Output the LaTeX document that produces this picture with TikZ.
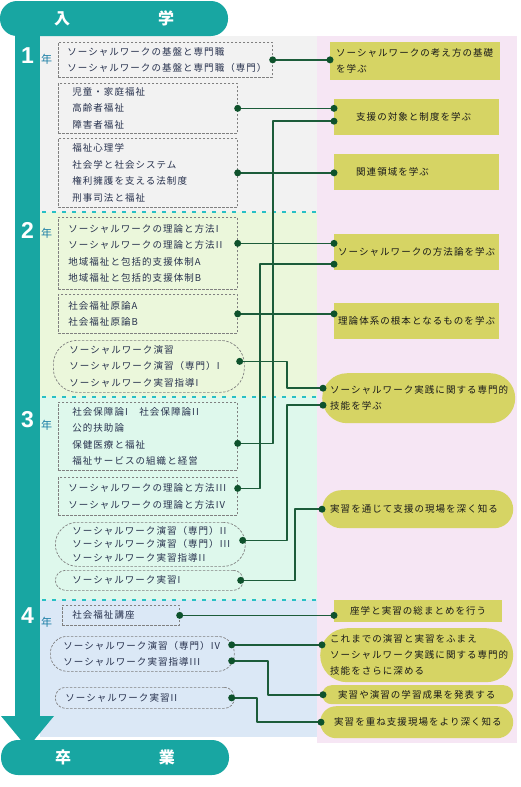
\documentclass[tikz,border=0pt]{standalone}
\usepackage{fontspec}
\setmainfont{Noto Sans CJK JP}
\newfontfamily\jp[LetterSpace=11]{Noto Sans CJK JP}
\newfontfamily\numf{Liberation Sans}
\usetikzlibrary{calc}
\definecolor{barteal}{RGB}{24,166,162}
\definecolor{septeal}{RGB}{40,192,196}
\definecolor{yearblue}{RGB}{25,125,165}
\definecolor{linkgreen}{RGB}{28,92,58}
\definecolor{dotgreen}{RGB}{14,82,44}
\definecolor{goalolive}{RGB}{214,212,100}
\definecolor{panelpink}{RGB}{246,230,244}
\definecolor{yeargrey}{RGB}{242,242,242}
\definecolor{yeargreen}{RGB}{235,247,219}
\definecolor{yearmint}{RGB}{222,248,236}
\definecolor{yearsky}{RGB}{219,232,246}
\definecolor{boxtext}{RGB}{40,50,78}
\definecolor{boxline}{RGB}{128,128,128}
\tikzset{
  course/.style={draw=boxline, dash pattern=on 2.5pt off 1.5pt, line width=0.7pt, anchor=north west,
    align=left, text=boxtext, font=\jp\fontsize{9.5}{16.5}\selectfont, inner ysep=0pt},
  practice/.style={course, rounded corners=#1},
  goal/.style={fill=goalolive, anchor=north west, align=left, text=black!90,
    font=\jp\fontsize{9.5}{16}\selectfont, inner ysep=0pt},
  goalpill/.style={goal, rounded corners=#1},
  stage/.style={fill=barteal, text=white, rounded corners=17pt, minimum width=228pt, minimum height=35pt,
    font=\bfseries\fontsize{16}{16}\selectfont},
  link/.style={draw=linkgreen, line width=1.6pt},
  sep/.style={draw=septeal, line width=2.2pt, dash pattern=on 4pt off 6pt}
}
\begin{document}
\begin{tikzpicture}[x=1pt, y=-1pt, line join=round]
\useasboundingbox (0,0) rectangle (520,787);
% panels
\fill[panelpink] (317,36) rectangle (517,743);
\fill[yeargrey] (40,36) rectangle (317,212);
\fill[yeargreen] (40,212) rectangle (317,397);
\fill[yearmint] (40,397) rectangle (317,600);
\fill[yearsky] (40,600) rectangle (317,737);
\foreach \y in {212,397,600} \draw[sep] (42,\y) -- (316,\y);
% time line
\fill[barteal] (15,30) rectangle (40,718);
\fill[barteal] (1,716) -- (54,716) -- (27.5,748) -- cycle;
\node[stage] (entry) at (114,18.5) {入\hspace{88pt}学};
\node[stage] (grad) at (115,757.5) {卒\hspace{88pt}業};
\foreach \n/\y/\k in {1/56/59,2/230/233,3/420/425,4/616/622}{
  \node[text=white, font=\numf\bfseries\fontsize{23}{23}\selectfont] (y\n) at (27.5,\y) {\n};
  \node[text=yearblue, font=\fontsize{11}{11}\selectfont] (yk\n) at (46.5,\k) {年};
}
% courses
\node[course, minimum width=214pt, minimum height=35pt, inner xsep=9pt, text width=196pt] (basics) at (58,42)
  {ソーシャルワークの基盤と専門職\\ソーシャルワークの基盤と専門職（専門）};
\node[course, minimum width=179pt, minimum height=50pt, inner xsep=14pt, text width=151pt] (fields) at (58,83)
  {児童・家庭福祉\\高齢者福祉\\障害者福祉};
\node[course, minimum width=179pt, minimum height=69pt, inner xsep=14pt, text width=151pt] (related) at (58,138)
  {福祉心理学\\社会学と社会システム\\権利擁護を支える法制度\\刑事司法と福祉};
\node[course, minimum width=179pt, minimum height=72pt, inner xsep=10pt, text width=159pt] (methodA) at (58,217)
  {ソーシャルワークの理論と方法I\\ソーシャルワークの理論と方法II\\地域福祉と包括的支援体制A\\地域福祉と包括的支援体制B};
\node[course, minimum width=179pt, minimum height=39pt, inner xsep=10pt, text width=159pt] (principles) at (58,294)
  {社会福祉原論A\\社会福祉原論B};
\node[practice=24pt, minimum width=191pt, minimum height=52pt, inner xsep=16pt, text width=159pt] (seminarA) at (53,340)
  {ソーシャルワーク演習\\ソーシャルワーク演習（専門）I\\ソーシャルワーク実習指導I};
\node[course, minimum width=179pt, minimum height=68pt, inner xsep=14pt, text width=151pt] (security) at (58,402)
  {社会保障論I　社会保障論II\\公的扶助論\\保健医療と福祉\\福祉サービスの組織と経営};
\node[course, minimum width=179pt, minimum height=38pt, inner xsep=10pt, text width=159pt] (methodB) at (58,477)
  {ソーシャルワークの理論と方法III\\ソーシャルワークの理論と方法IV};
\node[practice=22pt, minimum width=190pt, minimum height=44pt, inner xsep=17pt, text width=156pt,
  font=\jp\fontsize{9.5}{13.5}\selectfont] (seminarB) at (55,522)
  {ソーシャルワーク演習（専門）II\\ソーシャルワーク演習（専門）III\\ソーシャルワーク実習指導II};
\node[practice=10pt, minimum width=188pt, minimum height=20pt, inner xsep=17pt, text width=154pt] (placeA) at (55,570)
  {ソーシャルワーク実習I};
\node[course, minimum width=117pt, minimum height=20pt, inner xsep=10pt, text width=97pt] (lecture) at (62,605)
  {社会福祉講座};
\node[practice=17pt, minimum width=184pt, minimum height=35pt, inner xsep=13pt, text width=158pt] (seminarC) at (50,636)
  {ソーシャルワーク演習（専門）IV\\ソーシャルワーク実習指導III};
\node[practice=10pt, minimum width=179pt, minimum height=21pt, inner xsep=10pt, text width=159pt] (placeB) at (55,687)
  {ソーシャルワーク実習II};
% goals
\node[goal, minimum width=170pt, minimum height=38pt, inner xsep=6pt, text width=158pt] (goalBase) at (330,42)
  {ソーシャルワークの考え方の基礎\\を学ぶ};
\node[goal, minimum width=165pt, minimum height=36pt, inner xsep=22pt, text width=121pt] (goalScope) at (334,99)
  {支援の対象と制度を学ぶ};
\node[goal, minimum width=165pt, minimum height=36pt, inner xsep=22pt, text width=121pt] (goalField) at (334,154)
  {関連領域を学ぶ};
\node[goal, minimum width=165pt, minimum height=36pt, inner xsep=4pt, text width=157pt] (goalMethod) at (334,234)
  {ソーシャルワークの方法論を学ぶ};
\node[goal, minimum width=165pt, minimum height=36pt, inner xsep=4pt, text width=157pt] (goalTheory) at (334,303)
  {理論体系の根本となるものを学ぶ};
\node[goalpill=25pt, minimum width=193pt, minimum height=50pt, inner xsep=8pt, text width=177pt] (goalSkill) at (322,373)
  {ソーシャルワーク実践に関する専門的\\技能を学ぶ};
\node[goalpill=19pt, minimum width=191pt, minimum height=38pt, inner xsep=8pt, text width=175pt] (goalSite) at (322,490)
  {実習を通じて支援の現場を深く知る};
\node[goal, minimum width=168pt, minimum height=22pt, inner xsep=16pt, text width=136pt] (goalSum) at (334,600)
  {座学と実習の総まとめを行う};
\node[goalpill=27pt, minimum width=193pt, minimum height=54pt, inner xsep=10pt, text width=173pt] (goalDeep) at (320,628)
  {これまでの演習と実習をふまえ\\ソーシャルワーク実践に関する専門的\\技能をさらに深める};
\node[goalpill=9.5pt, minimum width=191pt, minimum height=19pt, inner xsep=16pt, text width=159pt] (goalPresent) at (322,685)
  {実習や演習の学習成果を発表する};
\node[goalpill=16pt, minimum width=193pt, minimum height=32pt, inner xsep=14pt, text width=165pt] (goalReal) at (320,706)
  {実習を重ね支援現場をより深く知る};
% dot points
\path (basics.east) coordinate (a1)
  (fields.east) coordinate (b1)
  (related.east) coordinate (c1)
  ($(methodA.east)+(0,-10)$) coordinate (d1)
  (principles.east) coordinate (e1)
  ($(seminarA.east)+(-5,-5)$) coordinate (f1)
  ($(security.east)+(0,7)$) coordinate (g1)
  ($(methodB.east)+(0,-8)$) coordinate (h1)
  ($(seminarB.east)+(-3,-4)$) coordinate (i1)
  ($(placeA.east)+(-3,0)$) coordinate (j1)
  (lecture.east) coordinate (k1)
  ($(seminarC.east)+(-3,-9)$) coordinate (l1)
  ($(seminarC.east)+(-3,7)$) coordinate (l2)
  ($(placeB.east)+(-3,0)$) coordinate (m1);
\path (goalBase.west |- a1) coordinate (t1)
  (goalScope.west |- b1) coordinate (t2a)
  ($(goalScope.west)+(0,4)$) coordinate (t2b)
  (goalField.west |- c1) coordinate (t3)
  (goalMethod.west |- d1) coordinate (t4a)
  ($(goalMethod.west)+(0,12)$) coordinate (t4b)
  (goalTheory.west |- e1) coordinate (t5)
  ($(goalSkill.west)+(1,-10)$) coordinate (t6a)
  ($(goalSkill.west)+(1,7)$) coordinate (t6b)
  ($(goalSite.west)+(0,0)$) coordinate (t7)
  (goalSum.west |- k1) coordinate (t8)
  ($(goalDeep.west |- l1)+(2,0)$) coordinate (t9)
  ($(goalPresent.west)+(1,0)$) coordinate (t10)
  ($(goalReal.west)+(1,0)$) coordinate (t11);
% links
\foreach \s/\t in {a1/t1,b1/t2a,c1/t3,d1/t4a,e1/t5,k1/t8,l1/t9}
  \draw[link] (\s) -- (\t);
\draw[link] (g1) -- ++(35,0) |- (t2b);
\draw[link] (h1) -- ++(22,0) |- (t4b);
\draw[link] (f1) -- ++(47,0) |- (t6a);
\draw[link] (i1) -- ++(44,0) |- (t6b);
\draw[link] (j1) -- ++(54,0) |- (t7);
\draw[link] (l2) -- ++(36,0) |- (t10);
\draw[link] (m1) -- ++(25,0) |- (t11);
\foreach \p in {a1,b1,c1,d1,e1,f1,g1,h1,i1,j1,k1,l1,l2,m1,t1,t2a,t2b,t3,t4a,t4b,t5,t6a,t6b,t7,t8,t9,t10,t11}
  \fill[dotgreen] (\p) circle (3.5);
\end{tikzpicture}
\end{document}
